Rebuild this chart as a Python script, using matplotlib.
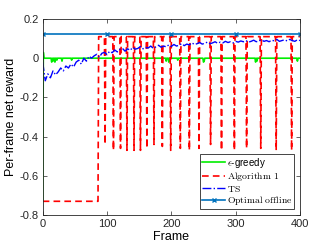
import matplotlib
matplotlib.use('Agg')
import matplotlib.pyplot as plt
import numpy as np

plt.rcParams['font.family'] = ['Liberation Sans', 'DejaVu Sans']
plt.rcParams['mathtext.fontset'] = 'cm'

# Data
n_frames = 400

# epsilon-greedy: first frame very low, then ~0 with small dips
eps_start = [-0.73, 0.03]
eps_level = 0.0
eps_dip_frames = [14, 16, 19, 22, 30, 45, 192, 196, 210, 250, 251, 331, 333, 396]
eps_dip_values = [-0.02, -0.015, -0.02, -0.01, -0.015, -0.01, -0.015, -0.02, -0.01, -0.02, -0.015, -0.02, -0.015, -0.015]

# Algorithm 1: flat low start, jump up, then periodic one-frame dips
alg_low = -0.73
alg_jump_frame = 87
alg_high = 0.11
alg_dip_frames = [97, 110, 121, 131, 142, 152, 162, 173, 186, 199, 214, 228, 243, 261, 278, 298, 317, 339, 363, 387]
alg_dip_values = [-0.44, -0.47, -0.46, -0.47, -0.47, -0.47, -0.46, -0.44, -0.45, -0.47,
                  -0.46, -0.47, -0.46, -0.44, -0.47, -0.47, -0.46, -0.46, -0.47, -0.47]

# TS: noisy, sampled every 4 frames
ts_frames = list(range(0, 401, 4))
ts_values = [-0.02, -0.115, -0.08, -0.1, -0.065, -0.085, -0.07, -0.05, -0.065, -0.04,
             -0.05, -0.03, -0.045, -0.02, -0.01, -0.03, 0.0, -0.015, 0.01, 0.0,
             0.012, 0.02, 0.005, 0.025, 0.03, 0.018,
             0.035, 0.028, 0.042, 0.032, 0.045, 0.05, 0.036, 0.048, 0.04, 0.055,
             0.046, 0.05, 0.06, 0.048, 0.055, 0.052, 0.062, 0.05, 0.058, 0.066,
             0.056, 0.062, 0.058, 0.068, 0.06,
             0.07, 0.062, 0.066, 0.074, 0.064, 0.072, 0.068, 0.078, 0.07, 0.074,
             0.08, 0.072, 0.076, 0.082, 0.074, 0.078, 0.084, 0.076, 0.082, 0.078,
             0.086, 0.08, 0.084, 0.078, 0.086,
             0.082, 0.088, 0.084, 0.09, 0.082, 0.086, 0.092, 0.084, 0.088, 0.094,
             0.086, 0.09, 0.084, 0.092, 0.088, 0.096, 0.086, 0.09, 0.094, 0.088,
             0.096, 0.09, 0.086, 0.094, 0.09]

# Optimal offline: constant, markers every 100 frames
opt_frames = [0, 100, 200, 300, 400]
opt_values = [0.123, 0.123, 0.123, 0.123, 0.123]

# Build per-frame series
frames = np.arange(n_frames + 1)
eps = np.full(n_frames + 1, eps_level)
eps[:2] = eps_start
eps[eps_dip_frames] = eps_dip_values

alg = np.where(frames < alg_jump_frame, alg_low, alg_high)
alg[alg_dip_frames] = alg_dip_values

fig = plt.figure(figsize=(3.32, 2.49), dpi=100)
ax = fig.add_axes([0.1286, 0.1365, 0.775, 0.7872])

ax.plot(frames, eps, color='#00ee00', lw=1.2, label=r'$\epsilon$-greedy')
ax.plot(frames, alg, color='red', lw=1.2, linestyle=(0, (4, 2.5)), label=r'$\mathrm{Algorithm\ 1}$')
ax.plot(ts_frames, ts_values, color='blue', lw=1.0, linestyle='-.', label=r'$\mathrm{TS}$')
ax.plot(opt_frames, opt_values, color='#0072bd', lw=1.2, marker='x', markersize=3,
        markeredgewidth=1.0, label=r'$\mathrm{Optimal\ offline}$')

ax.set_xlim(0, 400)
ax.set_ylim(-0.8, 0.2)
ax.set_xticks([0, 100, 200, 300, 400])
ax.set_yticks([-0.8, -0.6, -0.4, -0.2, 0, 0.2])
ax.set_yticklabels(['-0.8', '-0.6', '-0.4', '-0.2', '0', '0.2'])
ax.tick_params(direction='in', top=True, right=True, labelsize=8, length=3, width=0.5,
               colors='#262626', pad=3)
for s in ax.spines.values():
    s.set_linewidth(0.6)
    s.set_color('#262626')

ax.set_xlabel('Frame', fontsize=9, labelpad=1)
ax.set_ylabel('Per-frame net reward', fontsize=9, labelpad=2)

leg = ax.legend(loc='lower right', fontsize=7, frameon=True, fancybox=False,
                edgecolor='#262626', framealpha=1, handlelength=2.3,
                handletextpad=0.2, borderpad=0.2, labelspacing=0.05,
                borderaxespad=0.6)
leg.get_frame().set_linewidth(0.6)

plt.savefig('out.png', dpi=100)
